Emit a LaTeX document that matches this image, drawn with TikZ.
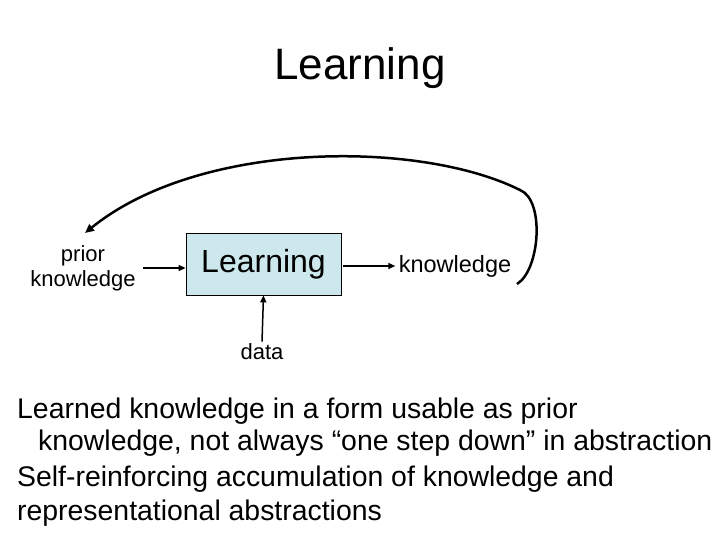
\documentclass[tikz,border=0pt]{standalone}
\usepackage{fontspec}
\setmainfont{Liberation Sans}
\usetikzlibrary{arrows.meta}
\begin{document}
\begin{tikzpicture}[x=1pt,y=-1pt,
  arr/.style={-{Triangle[length=7pt,width=6pt]},line width=1.5pt},
  txt/.style={inner sep=0pt,anchor=base west,font=\fontsize{28.4}{32}\selectfont}]
\useasboundingbox (0,0) rectangle (720,540);
\node (title) at (360,68) {\fontsize{44}{50}\selectfont Learning};
\node[align=center,font=\fontsize{22}{25}\selectfont] (prior) at (83,268) {prior\\knowledge};
\node[draw,line width=0.8pt,fill={rgb,255:red,205;green,232;blue,236},minimum width=155pt,minimum height=62pt,font=\fontsize{32}{36}\selectfont] (learn) at (263.5,264) {\raisebox{6pt}{Learning}};
\node[font=\fontsize{23.5}{27}\selectfont] (know) at (455,266) {knowledge};
\node[font=\fontsize{22}{26}\selectfont,inner sep=2pt] (data) at (262,352) {data};
\draw[arr] (prior.east|-learn) ++(4,4) coordinate (p1) -- (learn.west|-p1);
\draw[arr] (learn.east) ++(2,2) coordinate (k1) -- (know.west|-k1);
\draw[arr] (data.north) -- (learn.south);
\coordinate (c0) at (517,284);
\coordinate (c1) at (85,233);
\draw[-{Triangle[length=9pt,width=8pt]},line width=2.5pt] (c0) .. controls (540,270) and (545,200) .. (520,190)
  .. controls (420,140) and (200,140) .. (c1);
\node[txt] (l1) at (17,418) {Learned knowledge in a form usable as prior};
\node[txt] (l2) at (38,450) {knowledge, not always “one step down” in abstraction};
\node[txt] (l3) at (17,486) {Self-reinforcing accumulation of knowledge and};
\node[txt] (l4) at (17,520) {representational abstractions};
\end{tikzpicture}
\end{document}
